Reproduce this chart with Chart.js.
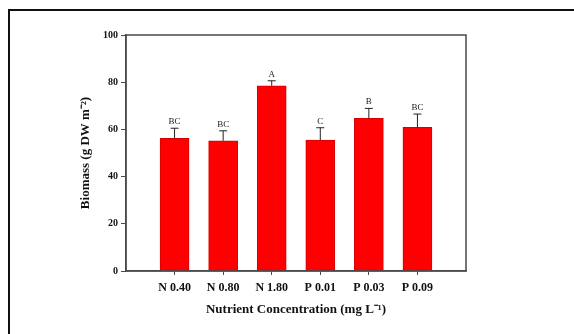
<!DOCTYPE html>
<html>
<head>
<meta charset="utf-8">
<script src="https://cdn.jsdelivr.net/npm/chart.js@4"></script>
<style>
  html, body { margin: 0; padding: 0; background: #fff; }
  #wrap { position: relative; width: 574px; height: 334px; overflow: hidden; }
  #frame { position: absolute; left: 8px; top: 9px; width: 600px; height: 400px;
           border-top: 2px solid #111; border-left: 2px solid #111; pointer-events: none; }
  canvas { position: absolute; left: 0; top: 0; }
</style>
</head>
<body>
<div id="wrap">
  <canvas id="c" width="574" height="334"></canvas>
  <div id="frame"></div>
</div>
<script>
/* ── Data ── */
const CATEGORIES = ['N 0.40', 'N 0.80', 'N 1.80', 'P 0.01', 'P 0.03', 'P 0.09'];
const BIOMASS    = [56.2, 55.2, 78.5, 55.5, 64.7, 60.9];
const ERRORS     = [4.3, 4.2, 2.1, 5.2, 4.2, 5.6];
const GROUPS     = ['BC', 'BC', 'A', 'C', 'B', 'BC'];
const Y_TICKS    = [0, 20, 40, 60, 80, 100];

const SERIF = "'Liberation Serif', 'Times New Roman', serif";
const AXIS = '#4a4a4a';

// empty slot at each end so the six bars sit on a 7-part axis
const labels = ['', ...CATEGORIES, ''];
const values = [null, ...BIOMASS, null];
const isPad = i => i === 0 || i === labels.length - 1;

/* box around plot area + error bars + letters */
const extras = {
  id: 'extras',
  afterDatasetsDraw(chart) {
    const { ctx, chartArea: a, scales: { x, y } } = chart;
    ctx.save();
    ctx.strokeStyle = '#222';
    ctx.lineWidth = 1;
    ctx.fillStyle = '#222';
    ctx.font = '9px ' + SERIF;
    ctx.textAlign = 'center';
    ctx.textBaseline = 'bottom';
    BIOMASS.forEach((v, i) => {
      const px = x.getPixelForValue(i + 1);
      const y0 = y.getPixelForValue(v);
      const y1 = y.getPixelForValue(v + ERRORS[i]);
      ctx.beginPath();
      ctx.moveTo(px, y0); ctx.lineTo(px, y1);
      ctx.moveTo(px - 4, y1); ctx.lineTo(px + 4, y1);
      ctx.stroke();
      ctx.fillText(GROUPS[i], px, y1 - 2);
    });
    ctx.strokeStyle = AXIS;
    ctx.lineWidth = 1.5;
    ctx.strokeRect(a.left, a.top, a.right - a.left, a.bottom - a.top);
    ctx.restore();
  }
};

new Chart(document.getElementById('c'), {
  type: 'bar',
  data: {
    labels,
    datasets: [{
      data: values,
      backgroundColor: '#ff0000',
      borderColor: '#d40000',
      borderWidth: 1,
      borderSkipped: 'bottom',
      barThickness: 29
    }]
  },
  options: {
    responsive: false,
    animation: false,
    events: [],
    layout: { padding: { left: 70, right: 108, top: 35, bottom: 17 } },
    plugins: { legend: { display: false }, tooltip: { enabled: false } },
    scales: {
      x: {
        offset: false,
        grid: {
          offset: false, drawOnChartArea: false, drawTicks: true, tickLength: 4,
          color: c => isPad(c.index) ? 'rgba(0,0,0,0)' : AXIS
        },
        border: { color: AXIS, width: 1.5 },
        ticks: {
          color: '#111', padding: 6, maxRotation: 0, autoSkip: false,
          font: { family: SERIF, size: 12, weight: 'bold' }
        },
        title: {
          display: true, text: 'Nutrient Concentration (mg L⁻¹)', color: '#111',
          padding: { top: 0, bottom: 0 },
          font: { family: SERIF, size: 13, weight: 'bold' }
        },
        afterFit: s => { s.height = 46; }
      },
      y: {
        min: 0, max: 100,
        afterBuildTicks: s => { s.ticks = Y_TICKS.map(v => ({ value: v })); },
        grid: { drawOnChartArea: false, drawTicks: true, tickLength: 5, color: AXIS },
        border: { color: AXIS, width: 1.5 },
        ticks: {
          color: '#111', padding: 3,
          font: { family: SERIF, size: 10, weight: 'bold' }
        },
        title: {
          display: true, text: 'Biomass (g DW m⁻²)', color: '#111',
          padding: { top: 8, bottom: 0 },
          font: { family: SERIF, size: 13, weight: 'bold' }
        },
        afterFit: s => { s.width = 56; }
      }
    }
  },
  plugins: [extras]
});
</script>
</body>
</html>
